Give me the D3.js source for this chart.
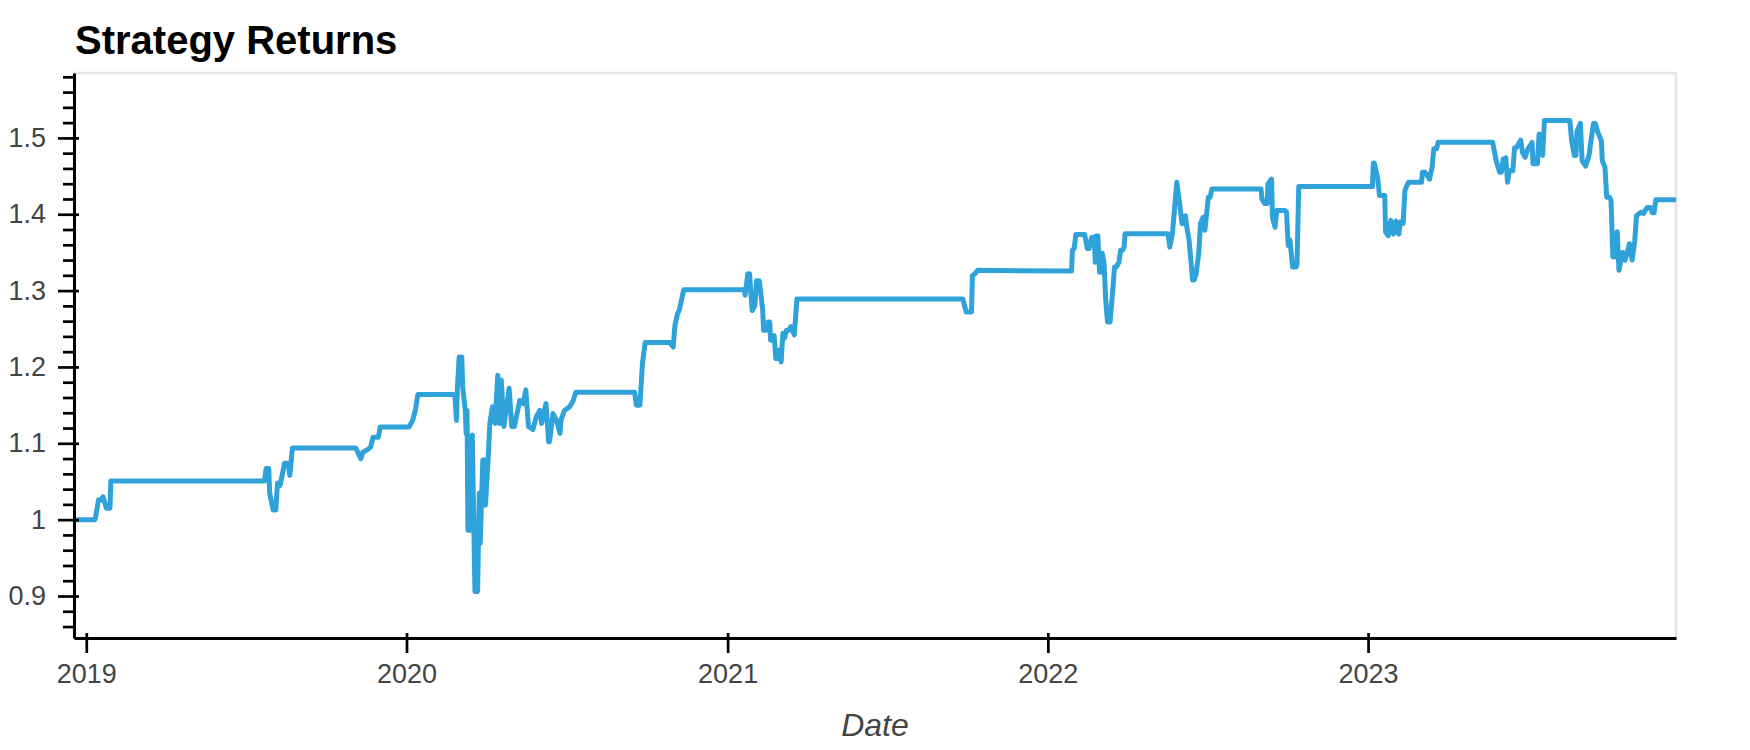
<!DOCTYPE html>
<html>
<head>
<meta charset="utf-8">
<script src="https://cdn.jsdelivr.net/npm/d3@7"></script>
<style>
body { margin: 0; background: #fff; }
</style>
</head>
<body>
<div id="plot"></div>
<script>
// values
var dates = [
  "2018-12-18","2019-01-11","2019-01-13","2019-01-15","2019-01-18","2019-01-20","2019-01-24","2019-01-28","2019-01-29",
  "2019-07-23","2019-07-25","2019-07-28","2019-07-29","2019-08-02","2019-08-05","2019-08-07","2019-08-10","2019-08-15",
  "2019-08-19","2019-08-21","2019-08-24","2019-11-04","2019-11-10","2019-11-12","2019-11-18","2019-11-21","2019-11-24",
  "2019-11-30","2019-12-02","2020-01-04","2020-01-08","2020-01-11","2020-01-14","2020-02-25","2020-02-27","2020-02-28",
  "2020-03-01","2020-03-04","2020-03-05","2020-03-08","2020-03-09","2020-03-10","2020-03-11","2020-03-14","2020-03-16",
  "2020-03-19","2020-03-22","2020-03-24","2020-03-25","2020-03-28","2020-03-30","2020-03-31","2020-04-03","2020-04-05",
  "2020-04-08","2020-04-11","2020-04-14","2020-04-16","2020-04-18","2020-04-21","2020-04-27","2020-04-30","2020-05-03",
  "2020-05-09","2020-05-13","2020-05-16","2020-05-19","2020-05-24","2020-05-28","2020-06-01","2020-06-03","2020-06-08",
  "2020-06-11","2020-06-12","2020-06-16","2020-06-20","2020-06-24","2020-06-25","2020-06-29","2020-07-05","2020-07-09",
  "2020-07-12","2020-09-17","2020-09-19","2020-09-23","2020-09-26","2020-09-29","2020-10-27","2020-10-31","2020-11-02",
  "2020-11-05","2020-11-07","2020-11-12","2021-01-20","2021-01-21","2021-01-24","2021-01-26","2021-01-29","2021-02-01",
  "2021-02-03","2021-02-06","2021-02-08","2021-02-10","2021-02-11","2021-02-14","2021-02-16","2021-02-18","2021-02-19",
  "2021-02-21","2021-02-23","2021-02-25","2021-02-27","2021-03-01","2021-03-03","2021-03-05","2021-03-07","2021-03-09",
  "2021-03-12","2021-03-14","2021-03-18","2021-03-21","2021-09-26","2021-09-30","2021-10-06","2021-10-07","2021-10-10",
  "2021-10-13","2022-01-28","2022-01-29","2022-01-31","2022-02-02","2022-02-12","2022-02-15","2022-02-17","2022-02-20",
  "2022-02-23","2022-02-24","2022-02-25","2022-02-27","2022-03-01","2022-03-02","2022-03-04","2022-03-06","2022-03-08",
  "2022-03-10","2022-03-13","2022-03-14","2022-03-16","2022-03-18","2022-03-20","2022-03-23","2022-03-25","2022-03-27",
  "2022-03-29","2022-03-30","2022-05-18","2022-05-20","2022-05-23","2022-05-28","2022-05-31","2022-06-03","2022-06-07",
  "2022-06-08","2022-06-11","2022-06-13","2022-06-15","2022-06-17","2022-06-19","2022-06-22","2022-06-24","2022-06-27",
  "2022-06-29","2022-07-03","2022-07-05","2022-07-07","2022-09-01","2022-09-02","2022-09-05","2022-09-08","2022-09-09",
  "2022-09-13","2022-09-14","2022-09-17","2022-09-19","2022-09-28","2022-09-30","2022-10-02","2022-10-04","2022-10-07",
  "2022-10-11","2022-10-12","2022-10-14","2023-01-06","2023-01-07","2023-01-08","2023-01-12","2023-01-14","2023-01-20",
  "2023-01-21","2023-01-24","2023-01-27","2023-01-30","2023-02-02","2023-02-05","2023-02-07","2023-02-10","2023-02-12",
  "2023-02-16","2023-03-03","2023-03-04","2023-03-07","2023-03-12","2023-03-15","2023-03-16","2023-03-17","2023-03-20",
  "2023-03-22","2023-05-23","2023-05-27","2023-05-31","2023-06-02","2023-06-04","2023-06-07","2023-06-09","2023-06-11",
  "2023-06-15","2023-06-17","2023-06-19","2023-06-24","2023-06-26","2023-06-29","2023-07-02","2023-07-07","2023-07-08",
  "2023-07-13","2023-07-15","2023-07-19","2023-07-21","2023-08-19","2023-08-21","2023-08-24","2023-08-26","2023-08-27",
  "2023-08-31","2023-09-02","2023-09-06","2023-09-10","2023-09-13","2023-09-15","2023-09-17","2023-09-20","2023-09-24",
  "2023-09-25","2023-09-28","2023-09-30","2023-10-03","2023-10-05","2023-10-07","2023-10-09","2023-10-12","2023-10-14",
  "2023-10-18","2023-10-21","2023-10-26","2023-10-29","2023-11-01","2023-11-03","2023-11-08","2023-11-11","2023-11-15",
  "2023-11-19","2023-11-21","2023-11-23","2023-11-25","2023-12-18"
];
var returns = [
  1.000,1.000,1.0125,1.026,1.026,1.030,1.015,1.015,1.0505,
  1.0505,1.067,1.067,1.035,1.0125,1.0125,1.048,1.045,1.074,
  1.074,1.058,1.094,1.094,1.080,1.088,1.092,1.095,1.108,
  1.108,1.1215,1.1215,1.130,1.143,1.164,1.164,1.130,1.172,
  1.213,1.213,1.174,1.143,1.113,1.143,0.986,0.986,1.111,
  0.906,0.906,1.035,0.969,1.078,1.078,1.019,1.078,1.126,
  1.148,1.126,1.189,1.126,1.183,1.122,1.172,1.122,1.122,
  1.156,1.152,1.170,1.122,1.118,1.135,1.143,1.126,1.152,
  1.102,1.102,1.139,1.130,1.113,1.130,1.143,1.148,1.156,
  1.167,1.167,1.150,1.150,1.205,1.232,1.232,1.226,1.255,
  1.270,1.275,1.301,1.301,1.294,1.322,1.322,1.274,1.280,
  1.313,1.313,1.295,1.274,1.248,1.248,1.259,1.259,1.235,
  1.235,1.241,1.211,1.211,1.222,1.2066,1.244,1.238,1.248,
  1.248,1.253,1.242,1.289,1.289,1.272,1.272,1.320,1.322,
  1.3265,1.3256,1.3527,1.355,1.3736,1.3736,1.355,1.355,1.370,
  1.370,1.337,1.3716,1.3716,1.324,1.324,1.349,1.337,1.287,
  1.259,1.259,1.274,1.300,1.331,1.331,1.337,1.353,1.353,
  1.357,1.3745,1.3745,1.357,1.3745,1.442,1.416,1.3876,1.398,
  1.386,1.366,1.340,1.314,1.314,1.322,1.349,1.388,1.396,
  1.379,1.4224,1.4224,1.433,1.433,1.420,1.414,1.414,1.440,
  1.446,1.396,1.383,1.405,1.405,1.403,1.359,1.366,1.331,
  1.331,1.334,1.4363,1.4363,1.467,1.467,1.447,1.4246,1.4246,
  1.3766,1.372,1.392,1.374,1.391,1.374,1.390,1.388,1.431,
  1.442,1.442,1.455,1.455,1.446,1.4616,1.474,1.4857,1.4857,
  1.4943,1.4943,1.470,1.455,1.455,1.472,1.474,1.442,1.457,
  1.457,1.487,1.487,1.497,1.481,1.4747,1.485,1.494,1.466,
  1.466,1.505,1.477,1.5227,1.5227,1.497,1.477,1.477,1.508,
  1.519,1.470,1.463,1.478,1.504,1.519,1.519,1.507,1.496,
  1.470,1.462,1.4224,1.4224,1.418,1.344,1.344,1.377,1.3265,
  1.350,1.340,1.3614,1.340,1.365,1.398,1.4027,1.401,1.409,
  1.409,1.402,1.402,1.419,1.419
];
var yearTicks = ["2019", "2020", "2021", "2022", "2023"];
var yTicks = [0.9, 1, 1.1, 1.2, 1.3, 1.4, 1.5];

var parseDate = d3.utcParse("%Y-%m-%d");
var data = dates.map((d, i) => ({date: parseDate(d), value: returns[i]}));

var svg = d3.select("div#plot")
            .append("svg")
            .attr("width", "1750")
            .attr("height", "750");

var margin = {top: 73, right: 74, bottom: 112, left: 74};
var width = +svg.attr("width") - margin.left - margin.right;
var height = +svg.attr("height") - margin.top - margin.bottom;
var g = svg.append("g").attr("transform", `translate(${margin.left}, ${margin.top})`);

var xScale = d3.scaleUtc()
  .domain(d3.extent(data, d => d.date))
  .range([0, width]);
var yScale = d3.scaleLinear()
  .domain([0.845, 1.585])
  .range([height, 0]);

// plot outline
g.append("rect")
  .attr("width", width)
  .attr("height", height)
  .attr("fill", "none")
  .attr("stroke", "#e5e5e5")
  .attr("stroke-width", 2.5);

var line = d3.line()
  .x(d => xScale(d.date))
  .y(d => yScale(d.value));

g.append("path")
  .datum(data)
  .attr("fill", "none")
  .attr("stroke", "#30a2da")
  .attr("stroke-width", 5)
  .attr("stroke-linejoin", "round")
  .attr("d", line);

// y axis: minor then major ticks
var minor = d3.range(0.86, 1.585, 0.02).filter(v => !yTicks.some(t => Math.abs(t - v) < 1e-6));
g.append("g")
  .call(d3.axisLeft(yScale).tickValues(minor).tickSize(11).tickFormat(""))
  .call(a => a.select(".domain").remove())
  .selectAll(".tick line").attr("stroke", "#000").attr("stroke-width", 2.7);

var yAxis = g.append("g")
  .call(d3.axisLeft(yScale).tickValues(yTicks).tickSizeInner(16).tickSizeOuter(0).tickPadding(12)
    .tickFormat(d3.format("~g")));
yAxis.select(".domain").attr("stroke", "#000").attr("stroke-width", 3);
yAxis.selectAll(".tick line").attr("x1", 5).attr("stroke", "#000").attr("stroke-width", 2.7);
yAxis.selectAll(".tick text")
  .attr("fill", "#444")
  .style("font-family", "'Liberation Sans', Arial, sans-serif")
  .style("font-size", "27px");

// x axis
var xAxis = g.append("g")
  .attr("transform", `translate(0, ${height})`)
  .call(d3.axisBottom(xScale)
    .tickValues(yearTicks.map(y => parseDate(y + "-01-01")))
    .tickSizeInner(15).tickSizeOuter(0).tickPadding(11)
    .tickFormat(d3.utcFormat("%Y")));
xAxis.select(".domain").attr("stroke", "#000").attr("stroke-width", 3);
xAxis.selectAll(".tick line").attr("y1", -5).attr("stroke", "#000").attr("stroke-width", 2.7);
xAxis.selectAll(".tick text")
  .attr("fill", "#444")
  .style("font-family", "'Liberation Sans', Arial, sans-serif")
  .style("font-size", "27px");

// title
svg.append("text")
  .attr("x", 75)
  .attr("y", 54)
  .style("font-family", "'Liberation Sans', Arial, sans-serif")
  .style("font-weight", "bold")
  .style("font-size", "40px")
  .attr("fill", "#000")
  .text("Strategy Returns");

// x axis label
svg.append("text")
  .attr("text-anchor", "middle")
  .attr("x", margin.left + width / 2)
  .attr("y", 736)
  .style("font-family", "'Liberation Sans', Arial, sans-serif")
  .style("font-style", "italic")
  .style("font-size", "32px")
  .attr("fill", "#444")
  .text("Date");
</script>
</body>
</html>
